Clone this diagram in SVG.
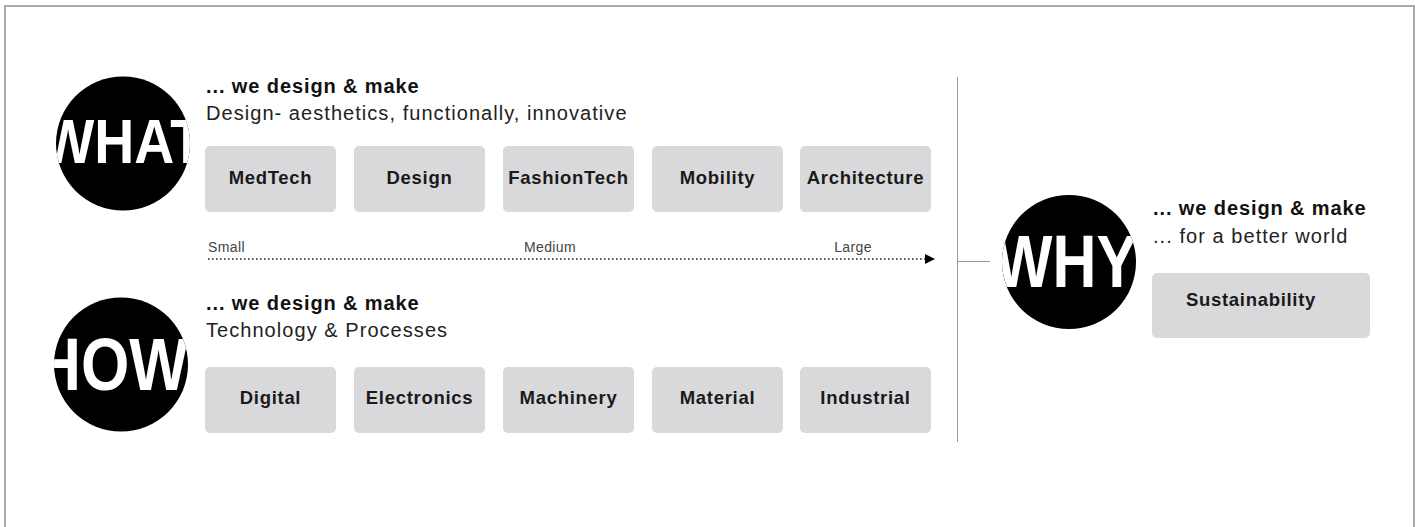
<svg xmlns="http://www.w3.org/2000/svg" width="1420" height="527" viewBox="0 0 1420 527">
<style>
.frame{fill:none;stroke:#aaaaaa;stroke-width:2}
.circ{fill:#000}
.big{font-family:"Liberation Sans",Arial,sans-serif;font-weight:bold;fill:#fff}
.h1{font-family:"Liberation Sans",Arial,sans-serif;font-weight:bold;font-size:20px;letter-spacing:0.9px;fill:#111}
.h2{font-family:"Liberation Sans",Arial,sans-serif;font-size:20px;letter-spacing:1.05px;fill:#222}
.box{fill:#d9d9db}
.bl{font-family:"Liberation Sans",Arial,sans-serif;font-weight:bold;font-size:18.5px;letter-spacing:0.7px;fill:#1a1a1a;text-anchor:middle}
.sc{font-family:"Liberation Sans",Arial,sans-serif;font-size:14px;letter-spacing:0.4px;fill:#444}
.ln{stroke:#999;stroke-width:1;fill:none}
.dot{stroke:#222;stroke-width:1.6;stroke-dasharray:1.6 2.4;fill:none}
</style>
<defs>
<marker id="ah" viewBox="0 0 10 10" refX="10" refY="5" markerWidth="13" markerHeight="10" markerUnits="userSpaceOnUse" orient="auto">
<path d="M0,0 L10,5 L0,10 z" fill="#000"/>
</marker>
<clipPath id="cWhat"><circle cx="123" cy="143.5" r="67"/></clipPath>
<clipPath id="cHow"><circle cx="121" cy="364.5" r="67"/></clipPath>
<clipPath id="cWhy"><circle cx="1069" cy="262" r="67"/></clipPath>
</defs>
<rect class="frame" x="5" y="6" width="1409" height="540"/>

<g id="connectors">
<line class="ln" x1="957.5" y1="77" x2="957.5" y2="442"/>
<line class="ln" x1="957" y1="261.5" x2="990" y2="261.5"/>
<line class="dot" x1="208" y1="259" x2="935" y2="259" marker-end="url(#ah)"/>
<text class="sc" x="208" y="252">Small</text>
<text class="sc" x="550" y="252" text-anchor="middle">Medium</text>
<text class="sc" x="872" y="252" text-anchor="end">Large</text>
</g>

<g id="what">
<circle class="circ" cx="123" cy="143.5" r="67"/>
<text class="big" x="123" y="163" font-size="63" text-anchor="middle" textLength="162" lengthAdjust="spacingAndGlyphs" clip-path="url(#cWhat)">WHAT</text>
<text class="h1" x="206" y="93">... we design &amp; make</text>
<text class="h2" x="206" y="120">Design- aesthetics, functionally, innovative</text>
</g>

<g id="what-boxes">
<rect class="box" x="205" y="146" width="131" height="66" rx="5"/>
<text class="bl" x="270.5" y="184">MedTech</text>
<rect class="box" x="354" y="146" width="131" height="66" rx="5"/>
<text class="bl" x="419.5" y="184">Design</text>
<rect class="box" x="503" y="146" width="131" height="66" rx="5"/>
<text class="bl" x="568.5" y="184">FashionTech</text>
<rect class="box" x="652" y="146" width="131" height="66" rx="5"/>
<text class="bl" x="717.5" y="184">Mobility</text>
<rect class="box" x="800" y="146" width="131" height="66" rx="5"/>
<text class="bl" x="865.5" y="184">Architecture</text>
</g>

<g id="how">
<circle class="circ" cx="121" cy="364.5" r="67"/>
<text class="big" x="112" y="390" font-size="74" text-anchor="middle" textLength="152" lengthAdjust="spacingAndGlyphs" clip-path="url(#cHow)">HOW</text>
<text class="h1" x="206" y="310">... we design &amp; make</text>
<text class="h2" x="206" y="337">Technology &amp; Processes</text>
</g>

<g id="how-boxes">
<rect class="box" x="205" y="367" width="131" height="66" rx="5"/>
<text class="bl" x="270.5" y="404">Digital</text>
<rect class="box" x="354" y="367" width="131" height="66" rx="5"/>
<text class="bl" x="419.5" y="404">Electronics</text>
<rect class="box" x="503" y="367" width="131" height="66" rx="5"/>
<text class="bl" x="568.5" y="404">Machinery</text>
<rect class="box" x="652" y="367" width="131" height="66" rx="5"/>
<text class="bl" x="717.5" y="404">Material</text>
<rect class="box" x="800" y="367" width="131" height="66" rx="5"/>
<text class="bl" x="865.5" y="404">Industrial</text>
</g>

<g id="why">
<circle class="circ" cx="1069" cy="262" r="67"/>
<text class="big" x="1066" y="287" font-size="74" text-anchor="middle" textLength="142" lengthAdjust="spacingAndGlyphs" clip-path="url(#cWhy)">WHY</text>
<text class="h1" x="1153" y="215">... we design &amp; make</text>
<text class="h2" x="1153" y="243">... for a better world</text>
</g>

<g id="why-box">
<rect class="box" x="1152" y="273" width="218" height="65" rx="5"/>
<text class="bl" x="1251" y="306">Sustainability</text>
</g>
</svg>
